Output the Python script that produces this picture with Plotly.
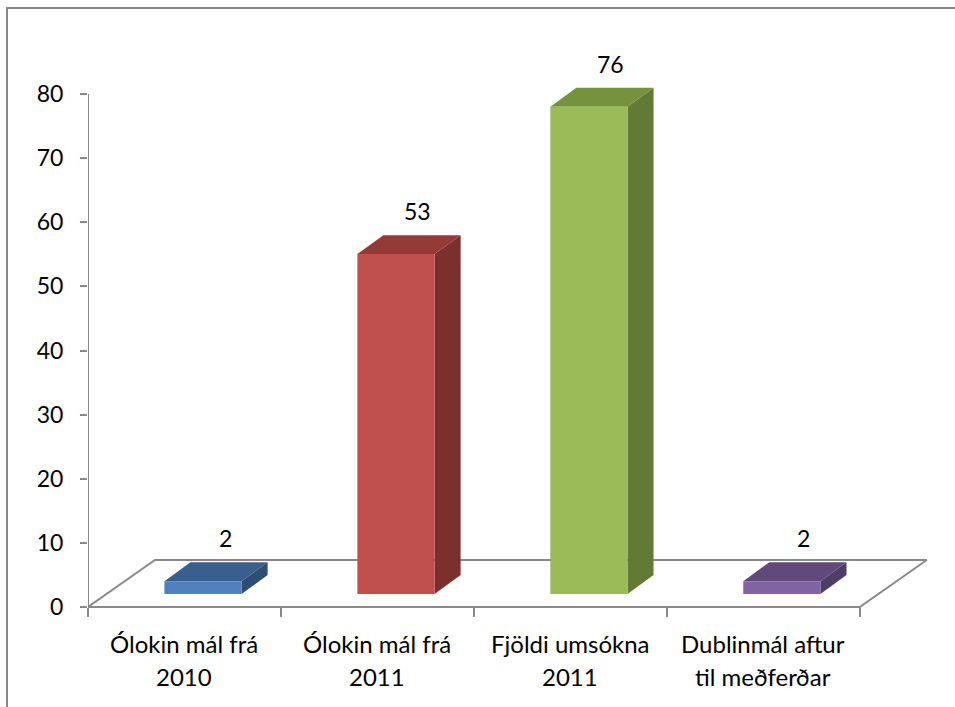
import plotly.graph_objects as go

# ---- data ----
categories_line1 = ["Ólokin mál frá", "Ólokin mál frá", "Fjöldi umsókna", "Dublinmál aftur"]
categories_line2 = ["2010", "2011", "2011", "til meðferðar"]
values = [2, 53, 76, 2]
y_ticks = [0, 10, 20, 30, 40, 50, 60, 70, 80]

# ---- styles ----
front_colors = ["#4F81BD", "#C0504D", "#9BBB59", "#8064A2"]
top_colors = ["#3A5F8C", "#943A37", "#76923C", "#604A7B"]
side_colors = ["#2E4D74", "#7B302E", "#627A35", "#4F3D66"]
GRAY = "#898989"
FONT = "Lato"
TICK_SIZE = 23
CAT_SIZE = 24

# 3D geometry in axis units
FLOOR_DX, FLOOR_DY = 0.347, 7.33      # floor depth offset
BAR_DX, BAR_DY = 0.135, 2.96          # bar depth offset
BASE_DX, BASE_DY = 0.096, 2.03        # bar front plane offset
BAR_W = 0.40
N = len(values)

fig = go.Figure()

# floor outline
fx = [0, N, N + FLOOR_DX, FLOOR_DX, 0]
fy = [0, 0, FLOOR_DY, FLOOR_DY, 0]
fig.add_trace(go.Scatter(x=fx, y=fy, mode="lines", line=dict(color=GRAY, width=2),
                         hoverinfo="skip", showlegend=False))
# y axis line
fig.add_trace(go.Scatter(x=[0, 0], y=[y_ticks[0], y_ticks[-1]], mode="lines",
                         line=dict(color=GRAY, width=2), hoverinfo="skip", showlegend=False))

annotations = []
for i, v in enumerate(values):
    xc = i + 0.5 + BASE_DX
    x0, x1 = xc - BAR_W / 2, xc + BAR_W / 2
    yb, yt = BASE_DY, BASE_DY + v
    # side face
    fig.add_trace(go.Scatter(
        x=[x1, x1, x1 + BAR_DX, x1 + BAR_DX, x1],
        y=[yb, yt, yt + BAR_DY, yb + BAR_DY, yb],
        mode="lines", fill="toself", fillcolor=side_colors[i],
        line=dict(width=0, color=side_colors[i]), hoverinfo="skip", showlegend=False))
    # top face
    fig.add_trace(go.Scatter(
        x=[x0, x1, x1 + BAR_DX, x0 + BAR_DX, x0],
        y=[yt, yt, yt + BAR_DY, yt + BAR_DY, yt],
        mode="lines", fill="toself", fillcolor=top_colors[i],
        line=dict(width=0, color=top_colors[i]), hoverinfo="skip", showlegend=False))
    # front face
    fig.add_trace(go.Scatter(
        x=[x0, x1, x1, x0, x0],
        y=[yb, yb, yt, yt, yb],
        mode="lines", fill="toself", fillcolor=front_colors[i],
        line=dict(width=0, color=front_colors[i]), hoverinfo="skip", showlegend=False))
    # data label
    annotations.append(dict(x=xc + 0.114, y=yt + BAR_DY, xref="x", yref="y",
                            text=str(v), showarrow=False, yshift=24, yanchor="middle",
                            font=dict(family=FONT, size=TICK_SIZE, color="black")))
    # category labels
    annotations.append(dict(x=i + 0.5, y=0, xref="x", yref="y", text=categories_line1[i],
                            showarrow=False, yshift=-36, yanchor="middle",
                            font=dict(family=FONT, size=CAT_SIZE, color="black")))
    annotations.append(dict(x=i + 0.5, y=0, xref="x", yref="y", text=categories_line2[i],
                            showarrow=False, yshift=-69, yanchor="middle",
                            font=dict(family=FONT, size=CAT_SIZE, color="black")))

W, H = 955, 707
L, R, T, B = 88, 18, 40, 87
ppx_y = 6.4125
plot_h = H - T - B
y_lo = -(T + plot_h - 607) / ppx_y
y_hi = y_lo + plot_h / ppx_y

fig.update_layout(
    width=W, height=H,
    margin=dict(l=L, r=R, t=T, b=B),
    paper_bgcolor="white", plot_bgcolor="white",
    showlegend=False,
    annotations=annotations,
    xaxis=dict(range=[0, 4.4], showgrid=False, zeroline=False, showline=False,
               tickvals=list(range(N + 1)), ticks="outside", ticklen=9, tickwidth=2,
               tickcolor=GRAY, showticklabels=False, anchor="free",
               position=(T + plot_h - 607) / plot_h, fixedrange=True),
    yaxis=dict(range=[y_lo, y_hi], showgrid=False, zeroline=False, showline=False,
               tickvals=y_ticks, ticks="outside", ticklen=7, tickwidth=2, tickcolor=GRAY,
               tickfont=dict(family=FONT, size=TICK_SIZE, color="black"), ticklabelstandoff=12,
               fixedrange=True),
    shapes=[dict(type="rect", xref="paper", yref="paper",
                 x0=(7 - L) / (W - L - R), x1=1.2,
                 y0=-0.3, y1=(T + plot_h - 8) / plot_h,
                 line=dict(color=GRAY, width=2), fillcolor="rgba(0,0,0,0)", layer="below")],
)

fig.write_html("out.html", config={"displayModeBar": False},
               post_script="document.body.style.margin='0px';document.body.style.overflow='hidden';")
